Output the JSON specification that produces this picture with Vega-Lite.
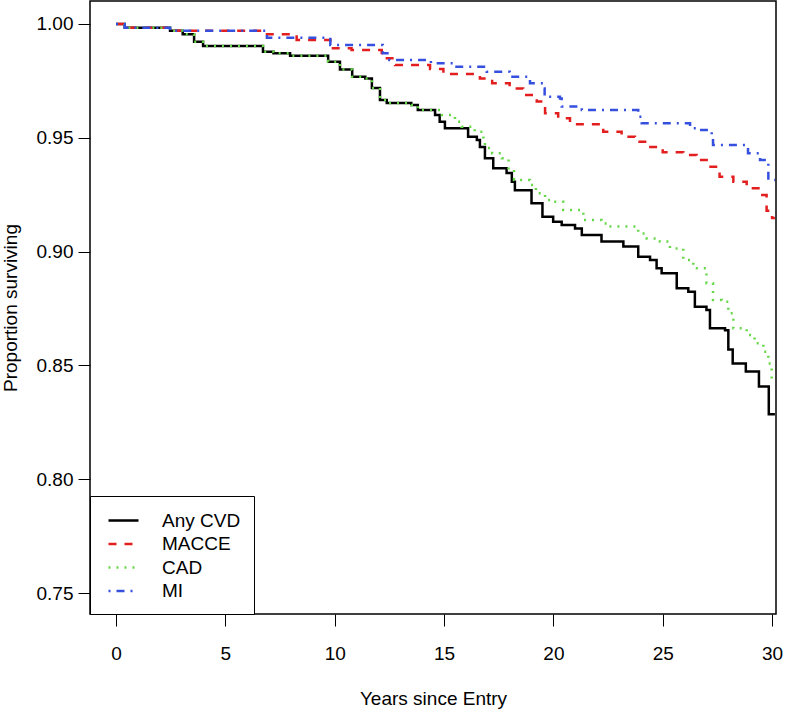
{
  "$schema": "https://vega.github.io/schema/vega-lite/v6.json",
  "autosize": "none",
  "width": 686,
  "height": 613,
  "padding": {"left": 90, "top": 1, "right": 9, "bottom": 96},
  "background": "white",
  "config": {
    "view": {"stroke": "black", "strokeWidth": 1.5},
    "font": "Liberation Sans",
    "axis": {
      "grid": false,
      "domain": false,
      "tickColor": "black",
      "tickSize": 12,
      "tickWidth": 1,
      "labelFont": "Liberation Sans",
      "labelFontSize": 19,
      "labelColor": "black",
      "titleFont": "Liberation Sans",
      "titleFontSize": 19,
      "titleFontWeight": "normal",
      "titleColor": "black"
    },
    "legend": {
      "orient": "bottom-left",
      "offset": 0,
      "strokeColor": "black",
      "fillColor": "white",
      "padding": 13,
      "symbolType": "M-1.5,0H1.5",
      "symbolSize": 400,
      "symbolOffset": 9,
      "symbolStrokeWidth": 2.5,
      "labelFont": "Liberation Sans",
      "labelFontSize": 19,
      "labelColor": "black",
      "labelOffset": 27,
      "labelLimit": 300,
      "rowPadding": 1.5,
      "cornerRadius": 0
    }
  },
  "data": {
    "values": [
      {"series": "Any CVD", "t": 0, "s": 1.0},
      {"series": "Any CVD", "t": 0.4, "s": 0.9984},
      {"series": "Any CVD", "t": 2.47, "s": 0.997},
      {"series": "Any CVD", "t": 3.05, "s": 0.9955},
      {"series": "Any CVD", "t": 3.57, "s": 0.9922},
      {"series": "Any CVD", "t": 3.98, "s": 0.9903},
      {"series": "Any CVD", "t": 6.72, "s": 0.9878},
      {"series": "Any CVD", "t": 7.2, "s": 0.9871},
      {"series": "Any CVD", "t": 7.96, "s": 0.9861},
      {"series": "Any CVD", "t": 9.7, "s": 0.9834},
      {"series": "Any CVD", "t": 10.24, "s": 0.98},
      {"series": "Any CVD", "t": 10.8, "s": 0.9768},
      {"series": "Any CVD", "t": 11.4, "s": 0.9761},
      {"series": "Any CVD", "t": 11.7, "s": 0.9719},
      {"series": "Any CVD", "t": 12.07, "s": 0.9666},
      {"series": "Any CVD", "t": 12.38, "s": 0.9653},
      {"series": "Any CVD", "t": 13.5, "s": 0.9644},
      {"series": "Any CVD", "t": 13.8, "s": 0.9622},
      {"series": "Any CVD", "t": 14.59, "s": 0.96},
      {"series": "Any CVD", "t": 14.8, "s": 0.9571},
      {"series": "Any CVD", "t": 15.04, "s": 0.9542},
      {"series": "Any CVD", "t": 16.1, "s": 0.9505},
      {"series": "Any CVD", "t": 16.5, "s": 0.949},
      {"series": "Any CVD", "t": 16.64, "s": 0.946},
      {"series": "Any CVD", "t": 16.87, "s": 0.941},
      {"series": "Any CVD", "t": 17.25, "s": 0.9366},
      {"series": "Any CVD", "t": 17.86, "s": 0.9345},
      {"series": "Any CVD", "t": 18.1, "s": 0.9307},
      {"series": "Any CVD", "t": 18.24, "s": 0.927},
      {"series": "Any CVD", "t": 19.0, "s": 0.9212},
      {"series": "Any CVD", "t": 19.5, "s": 0.9153},
      {"series": "Any CVD", "t": 19.99, "s": 0.9131},
      {"series": "Any CVD", "t": 20.38, "s": 0.9117},
      {"series": "Any CVD", "t": 20.99, "s": 0.9102},
      {"series": "Any CVD", "t": 21.3, "s": 0.9073},
      {"series": "Any CVD", "t": 22.2, "s": 0.9044},
      {"series": "Any CVD", "t": 23.2, "s": 0.9022},
      {"series": "Any CVD", "t": 23.88, "s": 0.8978},
      {"series": "Any CVD", "t": 24.42, "s": 0.8963},
      {"series": "Any CVD", "t": 24.72, "s": 0.8927},
      {"series": "Any CVD", "t": 24.95, "s": 0.8905},
      {"series": "Any CVD", "t": 25.64, "s": 0.8839},
      {"series": "Any CVD", "t": 26.17, "s": 0.8824},
      {"series": "Any CVD", "t": 26.47, "s": 0.8758},
      {"series": "Any CVD", "t": 27.0, "s": 0.8743},
      {"series": "Any CVD", "t": 27.16, "s": 0.8663},
      {"series": "Any CVD", "t": 27.85, "s": 0.8655},
      {"series": "Any CVD", "t": 28.0, "s": 0.857},
      {"series": "Any CVD", "t": 28.2, "s": 0.8509},
      {"series": "Any CVD", "t": 28.8, "s": 0.8473},
      {"series": "Any CVD", "t": 29.4, "s": 0.8407},
      {"series": "Any CVD", "t": 29.85, "s": 0.8285},
      {"series": "Any CVD", "t": 30.13, "s": 0.8285},

      {"series": "MACCE", "t": 0, "s": 1.0},
      {"series": "MACCE", "t": 0.4, "s": 0.9984},
      {"series": "MACCE", "t": 2.47, "s": 0.997},
      {"series": "MACCE", "t": 6.7, "s": 0.9955},
      {"series": "MACCE", "t": 8.26, "s": 0.993},
      {"series": "MACCE", "t": 9.8, "s": 0.9893},
      {"series": "MACCE", "t": 10.77, "s": 0.9886},
      {"series": "MACCE", "t": 12.15, "s": 0.9849},
      {"series": "MACCE", "t": 12.76, "s": 0.982},
      {"series": "MACCE", "t": 14.36, "s": 0.9802},
      {"series": "MACCE", "t": 14.97, "s": 0.978},
      {"series": "MACCE", "t": 16.64, "s": 0.9761},
      {"series": "MACCE", "t": 17.2, "s": 0.974},
      {"series": "MACCE", "t": 18.0, "s": 0.9717},
      {"series": "MACCE", "t": 18.62, "s": 0.9688},
      {"series": "MACCE", "t": 19.24, "s": 0.9659},
      {"series": "MACCE", "t": 19.62, "s": 0.9608},
      {"series": "MACCE", "t": 20.22, "s": 0.9586},
      {"series": "MACCE", "t": 20.76, "s": 0.956},
      {"series": "MACCE", "t": 22.28, "s": 0.9527},
      {"series": "MACCE", "t": 23.12, "s": 0.9505},
      {"series": "MACCE", "t": 23.73, "s": 0.9483},
      {"series": "MACCE", "t": 24.27, "s": 0.946},
      {"series": "MACCE", "t": 25.0, "s": 0.9436},
      {"series": "MACCE", "t": 25.94, "s": 0.9424},
      {"series": "MACCE", "t": 26.55, "s": 0.9402},
      {"series": "MACCE", "t": 27.08, "s": 0.9373},
      {"series": "MACCE", "t": 27.6, "s": 0.9329},
      {"series": "MACCE", "t": 28.23, "s": 0.9307},
      {"series": "MACCE", "t": 28.84, "s": 0.9278},
      {"series": "MACCE", "t": 29.45, "s": 0.9249},
      {"series": "MACCE", "t": 29.75, "s": 0.918},
      {"series": "MACCE", "t": 30.0, "s": 0.9148},
      {"series": "MACCE", "t": 30.13, "s": 0.9148},

      {"series": "CAD", "t": 0, "s": 1.0},
      {"series": "CAD", "t": 0.4, "s": 0.9984},
      {"series": "CAD", "t": 2.47, "s": 0.997},
      {"series": "CAD", "t": 3.05, "s": 0.9955},
      {"series": "CAD", "t": 3.57, "s": 0.9922},
      {"series": "CAD", "t": 3.98, "s": 0.9903},
      {"series": "CAD", "t": 6.72, "s": 0.9878},
      {"series": "CAD", "t": 7.2, "s": 0.9871},
      {"series": "CAD", "t": 7.96, "s": 0.9861},
      {"series": "CAD", "t": 9.7, "s": 0.9834},
      {"series": "CAD", "t": 10.24, "s": 0.98},
      {"series": "CAD", "t": 10.8, "s": 0.9768},
      {"series": "CAD", "t": 11.4, "s": 0.9761},
      {"series": "CAD", "t": 11.7, "s": 0.9719},
      {"series": "CAD", "t": 12.07, "s": 0.9666},
      {"series": "CAD", "t": 12.38, "s": 0.9653},
      {"series": "CAD", "t": 13.5, "s": 0.9644},
      {"series": "CAD", "t": 13.8, "s": 0.9622},
      {"series": "CAD", "t": 14.9, "s": 0.96},
      {"series": "CAD", "t": 15.5, "s": 0.957},
      {"series": "CAD", "t": 15.8, "s": 0.9549},
      {"series": "CAD", "t": 16.4, "s": 0.9527},
      {"series": "CAD", "t": 16.8, "s": 0.949},
      {"series": "CAD", "t": 16.87, "s": 0.9455},
      {"series": "CAD", "t": 17.2, "s": 0.9432},
      {"series": "CAD", "t": 17.64, "s": 0.941},
      {"series": "CAD", "t": 17.95, "s": 0.9359},
      {"series": "CAD", "t": 18.2, "s": 0.9315},
      {"series": "CAD", "t": 18.93, "s": 0.9293},
      {"series": "CAD", "t": 19.2, "s": 0.9256},
      {"series": "CAD", "t": 19.62, "s": 0.9227},
      {"series": "CAD", "t": 20.0, "s": 0.9219},
      {"series": "CAD", "t": 20.45, "s": 0.9183},
      {"series": "CAD", "t": 21.37, "s": 0.9139},
      {"series": "CAD", "t": 22.2, "s": 0.9124},
      {"series": "CAD", "t": 22.44, "s": 0.911},
      {"series": "CAD", "t": 23.88, "s": 0.908},
      {"series": "CAD", "t": 24.27, "s": 0.9058},
      {"series": "CAD", "t": 24.87, "s": 0.9044},
      {"series": "CAD", "t": 25.33, "s": 0.9014},
      {"series": "CAD", "t": 25.94, "s": 0.8963},
      {"series": "CAD", "t": 26.4, "s": 0.8927},
      {"series": "CAD", "t": 27.0, "s": 0.8861},
      {"series": "CAD", "t": 27.3, "s": 0.8787},
      {"series": "CAD", "t": 27.7, "s": 0.878},
      {"series": "CAD", "t": 28.0, "s": 0.8729},
      {"series": "CAD", "t": 28.23, "s": 0.8663},
      {"series": "CAD", "t": 28.84, "s": 0.8634},
      {"series": "CAD", "t": 29.2, "s": 0.8597},
      {"series": "CAD", "t": 29.6, "s": 0.856},
      {"series": "CAD", "t": 29.83, "s": 0.8509},
      {"series": "CAD", "t": 29.98, "s": 0.8436},
      {"series": "CAD", "t": 30.13, "s": 0.8436},

      {"series": "MI", "t": 0, "s": 1.0},
      {"series": "MI", "t": 0.4, "s": 0.9984},
      {"series": "MI", "t": 2.47, "s": 0.997},
      {"series": "MI", "t": 6.9, "s": 0.994},
      {"series": "MI", "t": 9.8, "s": 0.9908},
      {"series": "MI", "t": 12.2, "s": 0.9871},
      {"series": "MI", "t": 12.5, "s": 0.9842},
      {"series": "MI", "t": 14.4, "s": 0.9827},
      {"series": "MI", "t": 15.5, "s": 0.9812},
      {"series": "MI", "t": 16.95, "s": 0.979},
      {"series": "MI", "t": 18.0, "s": 0.9768},
      {"series": "MI", "t": 18.93, "s": 0.974},
      {"series": "MI", "t": 19.54, "s": 0.9717},
      {"series": "MI", "t": 19.6, "s": 0.968},
      {"series": "MI", "t": 20.3, "s": 0.9673},
      {"series": "MI", "t": 20.38, "s": 0.9637},
      {"series": "MI", "t": 21.3, "s": 0.9622},
      {"series": "MI", "t": 23.88, "s": 0.9593},
      {"series": "MI", "t": 24.04, "s": 0.9564},
      {"series": "MI", "t": 26.25, "s": 0.9542},
      {"series": "MI", "t": 26.7, "s": 0.9534},
      {"series": "MI", "t": 27.24, "s": 0.9505},
      {"series": "MI", "t": 27.3, "s": 0.9468},
      {"series": "MI", "t": 28.76, "s": 0.946},
      {"series": "MI", "t": 28.9, "s": 0.9432},
      {"series": "MI", "t": 29.45, "s": 0.9402},
      {"series": "MI", "t": 29.75, "s": 0.9388},
      {"series": "MI", "t": 29.83, "s": 0.9315},
      {"series": "MI", "t": 30.13, "s": 0.9315}
    ]
  },
  "mark": {"type": "line", "interpolate": "step-after", "strokeWidth": 2.5, "clip": true},
  "encoding": {
    "x": {
      "field": "t",
      "type": "quantitative",
      "scale": {"domain": [-1.19, 30.18], "nice": false, "zero": false},
      "axis": {"values": [0, 5, 10, 15, 20, 25, 30], "title": "Years since Entry", "labelPadding": 18, "titlePadding": 26, "format": "d"}
    },
    "y": {
      "field": "s",
      "type": "quantitative",
      "scale": {"domain": [0.7408, 1.0101], "nice": false, "zero": false},
      "axis": {"values": [0.75, 0.8, 0.85, 0.9, 0.95, 1.0], "format": ".2f", "title": "Proportion surviving", "labelPadding": 5, "titlePadding": 16}
    },
    "color": {
      "field": "series",
      "type": "nominal",
      "scale": {"domain": ["Any CVD", "MACCE", "CAD", "MI"], "range": ["#000000", "#E21E1E", "#66D848", "#3550DF"]},
      "legend": {"title": null}
    },
    "strokeDash": {
      "field": "series",
      "type": "nominal",
      "scale": {"domain": ["Any CVD", "MACCE", "CAD", "MI"], "range": [[1, 0], [8, 8], [2, 6], [2, 6, 8, 6]]},
      "legend": {"title": null}
    },
    "order": {"field": "t", "type": "quantitative"}
  }
}
